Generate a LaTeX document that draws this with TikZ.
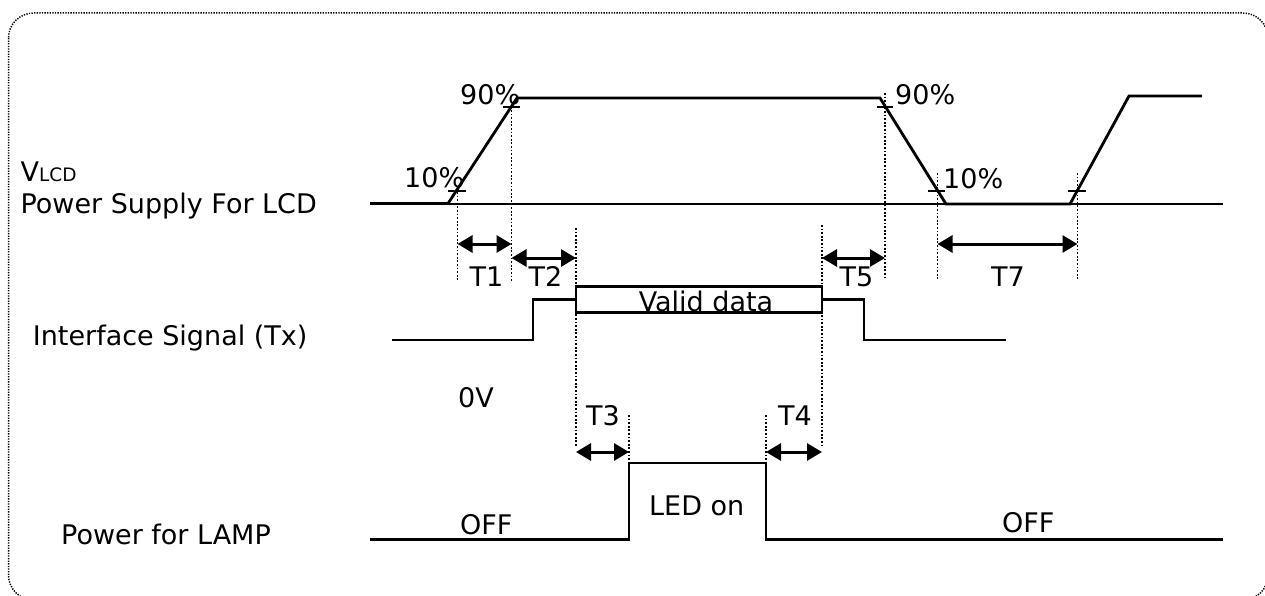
\documentclass[tikz,border=0pt]{standalone}
\usepackage{fontspec}
\setmainfont{DejaVu Sans}
\usetikzlibrary{arrows.meta}
\begin{document}
\begin{tikzpicture}[x=1pt,y=-1pt,
  wave/.style={line width=2.8pt, line join=miter},
  refline/.style={line width=2pt},
  guide/.style={line width=1.8pt, dash pattern=on 1.8pt off 1.8pt},
  dim/.style={line width=3pt, {Triangle[length=15pt,width=17pt]}-{Triangle[length=15pt,width=17pt]}},
  lbl/.style={inner sep=0pt, font=\fontsize{27}{30}\selectfont},
  tickmark/.style={line width=2pt}]
\useasboundingbox (0,0) rectangle (1265,596);
\draw[line width=1.5pt, dash pattern=on 1.3pt off 1.3pt, rounded corners=25pt] (8.5,13) rectangle (1268,600);

% ---- labels on the left
\node[lbl, anchor=base west] (vlcd) at (20.4,181.7) {V{\fontsize{18.5}{20}\selectfont LCD}};
\node[lbl, anchor=base west] (psl) at (20.4,213.3) {Power Supply For LCD};
\node[lbl, anchor=base west] (ifs) at (32.7,345) {Interface Signal (Tx)};
\node[lbl, anchor=base west] (zv) at (458,407.7) {0V};
\node[lbl, anchor=base west] (pfl) at (61,544.3) {Power for LAMP};

% ---- VLCD waveform
\draw[refline] (370,203.5) -- (1223,203.5);
\draw[wave] (370,203.5) -- (448,203.5) -- (517,98) -- (880,98) -- (946,204) -- (1070,204) -- (1129,96) -- (1202,96);
\draw[tickmark] (448,191) -- (466,191);
\draw[tickmark] (503,107.5) -- (520,107.5);
\draw[tickmark] (877,106.7) -- (893,106.7);
\draw[tickmark] (928,190.7) -- (945,190.7);
\draw[tickmark] (1068,190.7) -- (1086,190.7);
\node[lbl, anchor=base west] (p10a) at (404,187) {10\%};
\node[lbl, anchor=base west] (p90a) at (460,105) {90\%};
\node[lbl, anchor=base west] (p90b) at (895,105) {90\%};
\node[lbl, anchor=base west] (p10b) at (943,188.5) {10\%};

% ---- guides
\coordinate (g1t) at (457.5,192);  \coordinate (g1b) at (457.5,280);
\coordinate (g2t) at (511.5,110);  \coordinate (g2b) at (511.5,281);
\coordinate (g3t) at (576,228);    \coordinate (g3b) at (576,447);
\coordinate (g4t) at (822,225);    \coordinate (g4b) at (822,447);
\coordinate (g5t) at (885,93);     \coordinate (g5b) at (885,280);
\coordinate (g6t) at (937.5,173);  \coordinate (g6b) at (937.5,280);
\coordinate (g7t) at (1077.5,173); \coordinate (g7b) at (1077.5,280);
\coordinate (g8t) at (629,415);    \coordinate (g8b) at (629,463);
\coordinate (g9t) at (766,415);    \coordinate (g9b) at (766,463);
\foreach \g in {1,...,9} \draw[guide] (g\g t) -- (g\g b);

% ---- dimension arrows
\draw[dim] (457.5,244) -- (511.5,244);
\draw[dim] (511.5,258) -- (576,258);
\draw[dim] (822,258) -- (885,258);
\draw[dim] (937.5,244) -- (1077.5,244);
\draw[dim] (576,452) -- (629,452);
\draw[dim] (766,452) -- (822,452);
\node[lbl, anchor=base] (t1) at (486.5,286.7) {T1};
\node[lbl, anchor=base] (t2) at (545.5,286.7) {T2};
\node[lbl, anchor=base] (t5) at (856.5,286.7) {T5};
\node[lbl, anchor=base] (t7) at (1008,286.7) {T7};
\node[lbl, anchor=base] (t3) at (603,425) {T3};
\node[lbl, anchor=base] (t4) at (795,425) {T4};

% ---- interface signal
\draw[wave] (392,340) -- (533,340) -- (533,299.3) -- (576,299.3);
\draw[wave] (576,286.7) rectangle (822,312.7);
\draw[wave] (822,299.3) -- (864,299.3) -- (864,340) -- (1005.5,340);
\node[lbl, anchor=base] (vd) at (706,311) {Valid data};

% ---- lamp
\draw[wave] (369.5,539.3) -- (629,539.3) -- (629,463) -- (766,463) -- (766,539.3) -- (1223,539.3);
\node[lbl, anchor=base west] (off1) at (460,534.3) {OFF};
\node[lbl, anchor=base west] (led) at (649,515) {LED on};
\node[lbl, anchor=base west] (off2) at (1002,532.3) {OFF};
\end{tikzpicture}
\end{document}
